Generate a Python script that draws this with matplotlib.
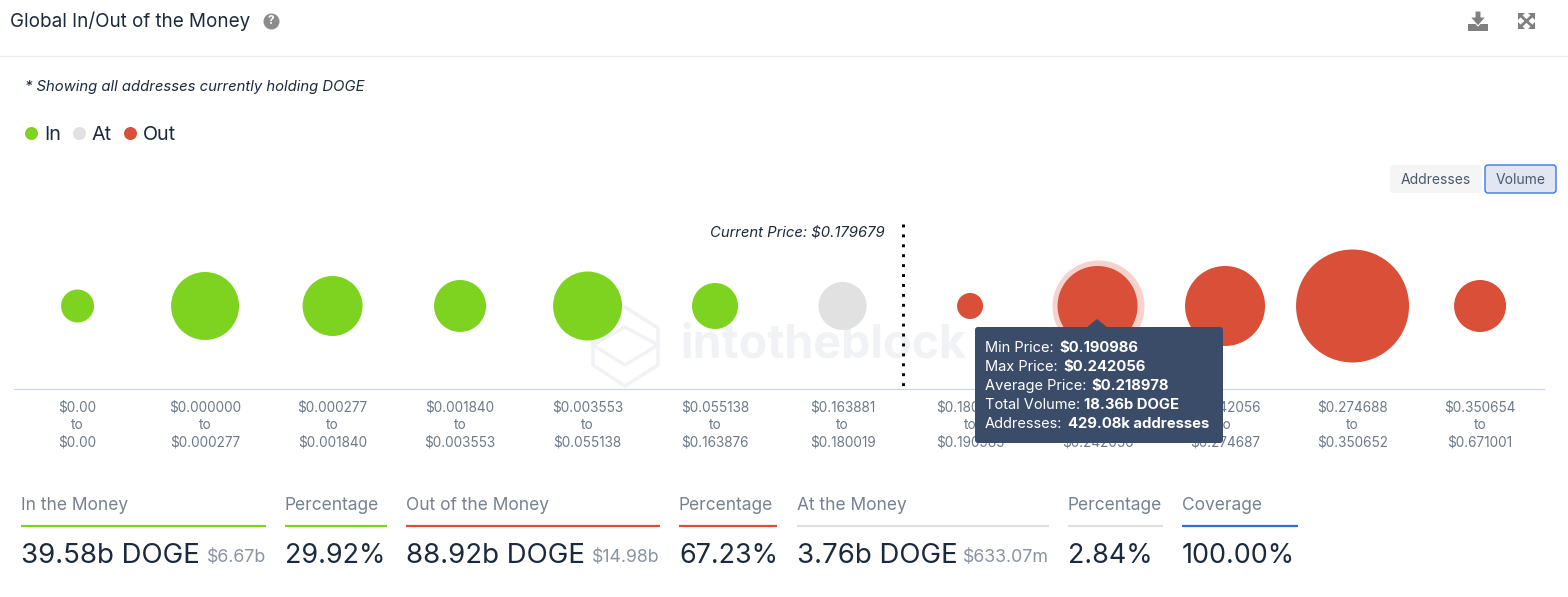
import matplotlib.pyplot as plt
from matplotlib.patches import FancyBboxPatch

plt.rcParams['font.family'] = ['Inter', 'DejaVu Sans']
plt.rcParams['text.parse_math'] = False

W = 1568
H = 597

GREEN = '#7ed321'
RED = '#d94f37'
GREY = '#e1e1e1'
DARK = '#1b2a3c'
MUTED = '#77828e'

# radius of each bubble in pixels
radius = [16.5, 34, 30, 26, 34.5, 23, 24, 13, 40, 40, 56.5, 26]
colors = [GREEN] * 6 + [GREY] + [RED] * 5
ranges = [
    '$0.00\nto\n$0.00',
    '$0.000000\nto\n$0.000277',
    '$0.000277\nto\n$0.001840',
    '$0.001840\nto\n$0.003553',
    '$0.003553\nto\n$0.055138',
    '$0.055138\nto\n$0.163876',
    '$0.163881\nto\n$0.180019',
    '$0.180020\nto\n$0.190985',
    '$0.190986\nto\n$0.242056',
    '$0.242056\nto\n$0.274687',
    '$0.274688\nto\n$0.350652',
    '$0.350654\nto\n$0.671001',
]

# x0, x1, colour, label, value, small value
footer = [
    (21, 266, GREEN, 'In the Money', '39.58b DOGE', '$6.67b'),
    (285, 387, GREEN, 'Percentage', '29.92%', ''),
    (406, 660, RED, 'Out of the Money', '88.92b DOGE', '$14.98b'),
    (679, 777, RED, 'Percentage', '67.23%', ''),
    (797, 1049, GREY, 'At the Money', '3.76b DOGE', '$633.07m'),
    (1068, 1163, GREY, 'Percentage', '2.84%', ''),
    (1182, 1298, '#2f6fd0', 'Coverage', '100.00%', ''),
]

tooltip = [
    ('Min Price:', '$0.190986', 1059),
    ('Max Price:', '$0.242056', 1063),
    ('Average Price:', '$0.218978', 1091),
    ('Total Volume:', '18.36b DOGE', 1084),
    ('Addresses:', '429.08k addresses', 1068),
]


def pixel_axes(order):
    ax = plt.axes([0, 0, 1, 1], zorder=order)
    ax.set_xlim(0, W)
    ax.set_ylim(H, 0)
    ax.axis('off')
    return ax


def box(ax, x0, y0, x1, y1, fill, edge='none', order=2):
    ax.add_patch(FancyBboxPatch((x0 + 2, y0 + 2), x1 - x0 - 4, y1 - y0 - 4, boxstyle='round,pad=2,rounding_size=3',
                                facecolor=fill, edgecolor=edge, linewidth=1, zorder=order))


plt.figure(figsize=(W / 100, H / 100), dpi=100)

# page furniture
ax = pixel_axes(1)
plt.text(10, 21.5, 'Global In/Out of the Money', fontsize=13.55, color=DARK, va='center')
plt.plot([0, W], [56, 56], color='#ececec', lw=1)
plt.scatter([271], [21], s=(16 * 0.72) ** 2, color='#8c8c8c', linewidths=0)
plt.text(271, 21.5, '?', fontsize=8.5, color='white', ha='center', va='center', fontweight='bold')
plt.text(25, 87, '* Showing all addresses currently holding DOGE', fontsize=10.7, style='italic', color=DARK, va='center')

# legend
for lx, tx, name, col in [(31, 44, 'In', GREEN), (79, 92, 'At', GREY), (130, 143, 'Out', RED)]:
    plt.scatter([lx], [133], s=(13 * 0.72) ** 2, color=col, linewidths=0)
    plt.text(tx, 134.5, name, fontsize=14.2, color=DARK, va='center')

# download and expand icons
plt.fill([1468, 1488, 1488, 1468], [24, 24, 31, 31], color='#808080', lw=0)
plt.fill([1475, 1481, 1481, 1486, 1478, 1470, 1475], [11, 11, 17, 17, 26, 17, 17], color='#808080', lw=0.8, ec='white')
plt.plot([1520, 1533], [15, 27], color='#808080', lw=2)
plt.plot([1533, 1520], [15, 27], color='#808080', lw=2)
for cx, cy, dx, dy in [(1518, 13, 1, 1), (1535, 13, -1, 1), (1518, 29, 1, -1), (1535, 29, -1, -1)]:
    plt.fill([cx, cx + 7 * dx, cx], [cy, cy, cy + 7 * dy], color='#808080', lw=0)

# buttons
box(ax, 1390, 165, 1482, 193, '#f5f5f5')
box(ax, 1485, 165, 1556, 193, '#e0e6f2', '#3b76e0')
plt.text(1436, 180, 'Addresses', fontsize=10, color='#4a5a6c', ha='center', va='center')
plt.text(1521, 180, 'Volume', fontsize=10, color='#4a5a6c', ha='center', va='center')

# watermark
plt.fill([593, 625, 658, 658, 625, 593], [328, 307, 328, 365, 386, 365], fc='none', ec='#f1f2f5', lw=2.5)
plt.plot([593, 625, 658], [345, 327, 345], color='#f1f2f5', lw=2.5)
plt.plot([593, 625, 658], [345, 365, 345], color='#f1f2f5', lw=2.5)
plt.text(680, 346, 'intotheblock', fontsize=33.5, color='#f1f2f5', va='center', fontweight='bold')

# footer
for x0, x1, col, label, value, small in footer:
    plt.text(x0, 505.5, label, fontsize=12.5, color=MUTED, va='center')
    plt.plot([x0, x1], [525.5, 525.5], color=col, lw=1.6, solid_capstyle='butt')
    plt.text(x0, 556, value, fontsize=19.9 if small else 19.4, color=DARK, va='center')
    if small:
        plt.text(x1, 558, small, fontsize=12.8, color='#8a949e', va='center', ha='right')

# bubbles, one category per price range
plt.axes([13.8 / W, 1 - 389 / H, 1530 / W, 165 / H], zorder=2, facecolor='none')
positions = list(range(len(radius)))
sizes = [(2 * r * 0.72) ** 2 for r in radius]
plt.scatter(positions, [83] * len(radius), s=sizes, c=colors, linewidths=0, zorder=3)
plt.scatter([8], [83], s=(2 * 46 * 0.72) ** 2, color=RED, alpha=0.25, linewidths=0, zorder=2)
plt.xlim(-0.5, 11.5)
plt.ylim(0, 165)
plt.yticks([])
plt.xticks(positions, ranges, fontsize=9.8, color='#6d7a88', linespacing=1.3)
plt.tick_params(axis='x', length=0, pad=8.5)
for side in ['top', 'left', 'right']:
    plt.gca().spines[side].set_visible(False)
plt.gca().spines['bottom'].set_color('#c5d3ec')
plt.plot([6.475, 6.475], [165, 0], color='black', lw=2.1, linestyle=(0, (1, 2.4)), zorder=4)
plt.text(6.33, 157, 'Current Price: $0.179679', fontsize=10.7, style='italic', color=DARK, ha='right', va='center')

# tooltip on top of everything
ax = pixel_axes(3)
ax.patch.set_alpha(0)
box(ax, 975, 327, 1223, 443, '#3a4c68')
plt.fill([1086, 1097, 1108], [328, 319, 328], color='#3a4c68', lw=0, zorder=3)
for i, (name, val, vx) in enumerate(tooltip):
    plt.text(985, 348 + i * 19, name, fontsize=10.5, color='white', va='center', zorder=4)
    plt.text(vx, 348 + i * 19, val, fontsize=10.7, color='white', va='center', fontweight='bold', zorder=4)

plt.savefig('out.png', dpi=100)
